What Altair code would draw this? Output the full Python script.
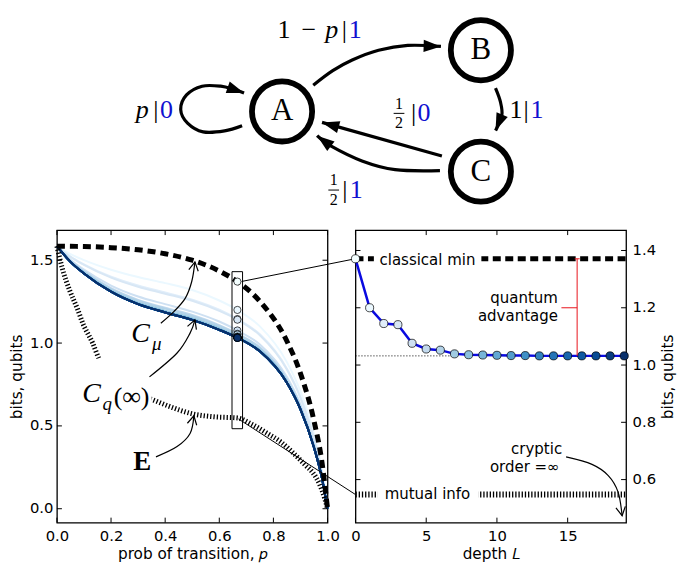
import math
import altair as alt
import pandas as pd

# ======================= DATA =======================
# ---- state diagram (diagram units) ----
node_names = ["A", "B", "C"]
node_x = [281, 485, 485]
node_y = [102, 39, 164]

loop_x = [240, 222, 200, 184, 177, 183, 199, 218, 232, 242]
loop_y = [116.7, 122, 123, 114, 100, 85, 76, 76, 79.5, 83]
ab_x = [313, 333, 353, 380, 410, 444]
ab_y = [75, 60, 49, 39, 34, 35]
bc_x = [500, 505, 506.5, 500]
bc_y = [78, 92, 106, 121.7]
ca1_x = [445, 322]
ca1_y = [148, 113.3]
ca2_x = [443, 397, 363, 330, 317]
ca2_y = [163, 162, 153, 137, 127]

lab_t = ["1", "−", "p", "|", "1", "p", "|", "0", "|", "0", "1", "|", "1", "|", "1"]
lab_x = [283, 308.5, 332, 345, 356, 137.5, 151.5, 162.5, 416, 426.5, 521, 531.3, 542.5, 345.5, 357]
lab_y = [18, 18, 18, 18, 18, 101, 101, 101, 104, 104, 101, 101, 101, 183, 183]
lab_k = ["n", "n", "i", "n", "b", "i", "n", "b", "n", "b", "n", "n", "b", "n", "b"]
frac_x = [401, 334]
frac_num_y = [94.5, 173]
frac_den_y = [113.5, 193]
frac_bar_y = [104, 183]

# ---- left panel ----
p_grid = [0, 0.05, 0.1, 0.2, 0.3, 0.4, 0.5, 0.6, 0.667, 0.75, 0.85, 0.9, 0.95, 0.98, 1.0]
c_mu = [1.585, 1.584, 1.583, 1.576, 1.563, 1.539, 1.500, 1.435, 1.371, 1.252, 1.011, 0.817, 0.530, 0.274, 0.0]
cq_1 = [1.585, 1.537, 1.501, 1.443, 1.399, 1.362, 1.320, 1.257, 1.200, 1.101, 0.885, 0.708, 0.450, 0.227, 0.0]
cq_2 = [1.585, 1.522, 1.475, 1.400, 1.347, 1.305, 1.262, 1.201, 1.145, 1.053, 0.845, 0.674, 0.424, 0.212, 0.0]
cq_3 = [1.585, 1.520, 1.472, 1.395, 1.340, 1.298, 1.255, 1.194, 1.141, 1.047, 0.840, 0.669, 0.421, 0.210, 0.0]
cq_4 = [1.585, 1.503, 1.443, 1.347, 1.281, 1.235, 1.190, 1.130, 1.076, 0.992, 0.795, 0.630, 0.392, 0.193, 0.0]
cq_5 = [1.585, 1.498, 1.433, 1.331, 1.261, 1.213, 1.169, 1.108, 1.056, 0.974, 0.780, 0.617, 0.383, 0.188, 0.0]
cq_6 = [1.585, 1.496, 1.431, 1.327, 1.256, 1.208, 1.163, 1.103, 1.052, 0.970, 0.776, 0.614, 0.380, 0.186, 0.0]
cq_7 = [1.585, 1.493, 1.425, 1.318, 1.245, 1.196, 1.151, 1.091, 1.039, 0.959, 0.768, 0.607, 0.375, 0.183, 0.0]
cq_8 = [1.585, 1.491, 1.422, 1.314, 1.240, 1.190, 1.146, 1.085, 1.036, 0.955, 0.764, 0.603, 0.372, 0.181, 0.0]
cq_inf = [1.585, 1.490, 1.420, 1.310, 1.235, 1.185, 1.140, 1.080, 1.032, 0.950, 0.760, 0.600, 0.370, 0.180, 0.0]
cq_curves = {1: cq_1, 2: cq_2, 3: cq_3, 4: cq_4, 5: cq_5, 6: cq_6, 7: cq_7, 8: cq_8}
for L in range(9, 20):
    cq_curves[L] = cq_inf

e_p = [0, 0.02, 0.048, 0.075, 0.096, 0.132, 0.156, 0.2, 0.25, 0.3, 0.35, 0.42, 0.5, 0.58,
       0.667, 0.72, 0.777, 0.83, 0.873, 0.92, 0.945, 0.97, 0.99, 1.0]
e_v = [1.585, 1.45, 1.314, 1.21, 1.118, 1.0, 0.903, 0.80, 0.73, 0.69, 0.66, 0.615, 0.573, 0.555,
       0.548, 0.51, 0.455, 0.40, 0.337, 0.26, 0.219, 0.15, 0.06, 0.0]

xt_left = [0.0, 0.2, 0.4, 0.6, 0.8, 1.0]
yt_left = [0.0, 0.5, 1.0, 1.5]

# ---- right panel ----
depth_L = list(range(20))
cq_depth = [1.371, 1.200, 1.145, 1.141, 1.076, 1.056, 1.052, 1.039, 1.036, 1.035,
            1.034, 1.033, 1.033, 1.032, 1.032, 1.032, 1.032, 1.032, 1.032, 1.032]
classical_min = 1.371
mutual_info = 0.548
cq_limit = 1.032
xt_right = [0, 5, 10, 15]
yt_right = [0.6, 0.8, 1.0, 1.2, 1.4]

blues_stops = [0, 2.375, 4.75, 7.125, 9.5, 11.875, 14.25, 16.625, 19]
blues = ["#ffffff", "#deebf7", "#c6dbef", "#9ecae1", "#6baed6", "#4292c6", "#2171b5", "#08519c", "#08306b"]

# ======================= HELPERS =======================
W, H = 271, 293
DW, DH = 571, 210
TRI = "M0,0L0.7,2L-0.7,2Z"
VEE = "M-0.55,1L0,0L0.55,1"
SERIF = "Liberation Serif"
SANS = "DejaVu Sans"
TXT = 15.0


def head_angle(xs, ys, sx, sy):
    dx = (xs[-1] - xs[-2]) * sx
    dy = (ys[-1] - ys[-2]) * sy
    return math.degrees(math.atan2(dx, -dy)) % 360


def paths(plist, sx, sy):
    rows, heads = [], []
    for k, (xs, ys) in enumerate(plist):
        for i, (x, y) in enumerate(zip(xs, ys)):
            rows.append({"id": k, "i": i, "x": x, "y": y})
        heads.append({"x": xs[-1], "y": ys[-1], "a": head_angle(xs, ys, sx, sy)})
    return pd.DataFrame(rows), pd.DataFrame(heads)


cscale = alt.Scale(domain=blues_stops, range=blues)

# ======================= DIAGRAM =======================
sxD = alt.Scale(domain=[50, 635], nice=False, zero=False)
syD = alt.Scale(domain=[0, 216], nice=False, zero=False, reverse=True)


def XD(f):
    return alt.X(f, type="quantitative", scale=sxD, axis=None)


def YD(f):
    return alt.Y(f, type="quantitative", scale=syD, axis=None)


nodes_df = pd.DataFrame({"n": node_names, "x": node_x, "y": node_y})
edge_df, edge_heads = paths([(loop_x, loop_y), (ab_x, ab_y), (bc_x, bc_y), (ca1_x, ca1_y), (ca2_x, ca2_y)],
                            DW / 585, DH / 216)
lab_df = pd.DataFrame({"t": lab_t, "x": lab_x, "y": lab_y, "k": lab_k})
frac_df = pd.DataFrame({"x": frac_x * 2, "y": frac_num_y + frac_den_y, "t": ["1", "1", "2", "2"]})
bar_df = pd.DataFrame({"x1": [v - 5.5 for v in frac_x], "x2": [v + 5.5 for v in frac_x], "y": frac_bar_y})

d_nodes = alt.Chart(nodes_df).mark_point(shape="circle", size=3630, filled=False, color="black",
                                         strokeWidth=5.8, opacity=1).encode(x=XD("x"), y=YD("y"))
d_letters = alt.Chart(nodes_df).mark_text(font=SERIF, fontSize=31, color="black").encode(
    x=XD("x"), y=YD("y"), text="n:N")
d_edges = alt.Chart(edge_df).mark_line(color="black", strokeWidth=3.2, interpolate="cardinal").encode(
    x=XD("x"), y=YD("y"), detail="id:N", order="i:Q")
d_heads = alt.Chart(edge_heads).mark_point(shape=TRI, filled=True, size=300, color="black", opacity=1,
                                           strokeWidth=0).encode(
    x=XD("x"), y=YD("y"), angle=alt.Angle("a:Q", scale=None))
d_lab_n = alt.Chart(lab_df).transform_filter("datum.k == 'n'").mark_text(
    font=SERIF, fontSize=26, color="black").encode(x=XD("x"), y=YD("y"), text="t:N")
d_lab_i = alt.Chart(lab_df).transform_filter("datum.k == 'i'").mark_text(
    font=SERIF, fontSize=26, fontStyle="italic", color="black").encode(x=XD("x"), y=YD("y"), text="t:N")
d_lab_b = alt.Chart(lab_df).transform_filter("datum.k == 'b'").mark_text(
    font=SERIF, fontSize=26, color="#1010d0").encode(x=XD("x"), y=YD("y"), text="t:N")
d_frac = alt.Chart(frac_df).mark_text(font=SERIF, fontSize=16, color="black").encode(
    x=XD("x"), y=YD("y"), text="t:N")
d_bar = alt.Chart(bar_df).mark_rule(color="black", strokeWidth=1).encode(
    x=XD("x1"), x2="x2", y=YD("y"))

diagram = alt.layer(d_edges, d_heads, d_nodes, d_letters, d_lab_n, d_lab_i, d_lab_b, d_frac, d_bar).properties(
    width=DW, height=DH, view=alt.ViewBackground(strokeWidth=0, stroke="transparent"))

# ======================= LEFT PANEL =======================
sxL = alt.Scale(domain=[0, 1], nice=False, zero=False)
syL = alt.Scale(domain=[-0.084, 1.682], nice=False, zero=False)
axLx = alt.Axis(values=xt_left, format=".1f", title="prob of transition, 𝑝", labelFlush=False, ticks=False,
                tickSize=0, domain=False, grid=False, labelPadding=6, titlePadding=3)
axLy = alt.Axis(values=yt_left, format=".1f", title="bits, qubits", ticks=False, tickSize=0,
                domain=False, grid=False, labelPadding=4, titlePadding=5)


def XL(f):
    return alt.X(f, type="quantitative", scale=sxL, axis=axLx)


def YL(f):
    return alt.Y(f, type="quantitative", scale=syL, axis=axLy)


curve_rows = []
for L, vals in cq_curves.items():
    for p, v in zip(p_grid, vals):
        curve_rows.append({"L": L, "p": p, "v": v})
curves_df = pd.DataFrame(curve_rows)
cmu_df = pd.DataFrame({"p": p_grid, "v": c_mu})
e_df = pd.DataFrame({"p": e_p, "v": e_v})
lbox_df = pd.DataFrame({"x1": [0.06], "x2": [0.35], "y1": [0.6], "y2": [0.905]})
zrect_df = pd.DataFrame({"x1": [0.647], "x2": [0.686], "y1": [0.483], "y2": [1.431]})
lcirc_df = pd.DataFrame({"L": depth_L, "p": [0.667] * 20, "v": cq_depth})
conn_df = pd.DataFrame({"x1": [0.683, 0.671], "y1": [1.372, 0.542], "x2": [1.103, 1.103], "y2": [1.509, 0.086]})

lt_it_df = pd.DataFrame({"t": ["C", "μ", "C", "q"], "x": [0.309, 0.369, 0.128, 0.186],
                         "y": [1.055, 0.995, 0.694, 0.635], "s": [28, 19, 28, 19]})
lt_n_df = pd.DataFrame({"t": ["(∞)"], "x": [0.276], "y": [0.676]})
lt_b_df = pd.DataFrame({"t": ["E"], "x": [0.315], "y": [0.283]})

l_arrows, l_heads = paths([
    ([0.384, 0.432, 0.474, 0.498, 0.51], [1.12, 1.19, 1.27, 1.37, 1.49]),
    ([0.342, 0.444, 0.492, 0.51], [0.796, 0.94, 1.06, 1.14]),
    ([0.366, 0.444, 0.492, 0.506], [0.313, 0.375, 0.454, 0.561]),
], W / 1.0, -H / 1.766)

left_layers = [
    alt.Chart(curves_df).mark_line(strokeWidth=2, interpolate="monotone").encode(
        x=XL("p"), y=YL("v"), color=alt.Color("L:Q", scale=cscale, legend=None), detail="L:N"),
    alt.Chart(cmu_df).mark_line(color="black", strokeWidth=5, strokeDash=[8, 5], interpolate="monotone").encode(
        x=XL("p"), y=YL("v")),
    alt.Chart(e_df).mark_line(color="black", strokeWidth=5, strokeDash=[1.3, 2], interpolate="monotone").encode(
        x=XL("p"), y=YL("v")),
    alt.Chart(lbox_df).mark_rect(color="white").encode(x=XL("x1"), x2="x2", y=YL("y1"), y2="y2"),
    alt.Chart(zrect_df).mark_rect(fillOpacity=0, stroke="black", strokeWidth=1).encode(
        x=XL("x1"), x2="x2", y=YL("y1"), y2="y2"),
    alt.Chart(lcirc_df).mark_point(shape="circle", filled=True, size=52, stroke="black", strokeWidth=0.7,
                                   opacity=1).encode(
        x=XL("p"), y=YL("v"), fill=alt.Fill("L:Q", scale=cscale, legend=None)),
    alt.Chart(conn_df).mark_rule(color="black", strokeWidth=1).encode(x=XL("x1"), y=YL("y1"), x2="x2", y2="y2"),
    alt.Chart(lt_it_df).mark_text(font=SERIF, fontStyle="italic", color="black").encode(
        x=XL("x"), y=YL("y"), text="t:N", size=alt.Size("s:Q", scale=None)),
    alt.Chart(lt_n_df).mark_text(font=SERIF, fontSize=26, color="black").encode(
        x=XL("x"), y=YL("y"), text="t:N"),
    alt.Chart(lt_b_df).mark_text(font=SERIF, fontSize=27, fontWeight="bold", color="black").encode(
        x=XL("x"), y=YL("y"), text="t:N"),
    alt.Chart(l_arrows).mark_line(color="black", strokeWidth=1.2, interpolate="cardinal").encode(
        x=XL("x"), y=YL("y"), detail="id:N", order="i:Q"),
    alt.Chart(l_heads).mark_point(shape=VEE, filled=False, size=300, color="black", strokeWidth=1.2,
                                  opacity=1).encode(x=XL("x"), y=YL("y"), angle=alt.Angle("a:Q", scale=None)),
    alt.Chart(pd.DataFrame({"v": xt_left})).mark_rule(color="black").encode(
        x=XL("v"), y=alt.value(0), y2=alt.value(5)),
    alt.Chart(pd.DataFrame({"v": xt_left})).mark_rule(color="black").encode(
        x=XL("v"), y=alt.value(H), y2=alt.value(H - 5)),
    alt.Chart(pd.DataFrame({"v": yt_left})).mark_rule(color="black").encode(
        y=YL("v"), x=alt.value(0), x2=alt.value(5)),
    alt.Chart(pd.DataFrame({"v": yt_left})).mark_rule(color="black").encode(
        y=YL("v"), x=alt.value(W - 5), x2=alt.value(W)),
]
left = alt.layer(*left_layers).properties(
    width=W, height=H, view=alt.ViewBackground(stroke="black", strokeWidth=1.3))

# ======================= RIGHT PANEL =======================
sxR = alt.Scale(domain=[0, 19.13], nice=False, zero=False)
syR = alt.Scale(domain=[0.4496, 1.4713], nice=False, zero=False)
axRx = alt.Axis(values=xt_right, format="d", title="depth 𝐿", labelFlush=False, ticks=False, tickSize=0,
                domain=False, grid=False, labelPadding=6, titlePadding=3)
axRy = alt.Axis(values=yt_right, format=".1f", title="bits, qubits", orient="right", ticks=False, tickSize=0,
                domain=False, grid=False, labelPadding=6, titlePadding=5, titleAngle=270, titleBaseline="top")


def XR(f):
    return alt.X(f, type="quantitative", scale=sxR, axis=axRx)


def YR(f):
    return alt.Y(f, type="quantitative", scale=syR, axis=axRy)


depth_df = pd.DataFrame({"L": depth_L, "v": cq_depth})
hl_df = pd.DataFrame({"x1": [0], "x2": [19.13], "y": [classical_min]})
mi_df = pd.DataFrame({"x1": [0], "x2": [19.13], "y": [mutual_info]})
lim_df = pd.DataFrame({"x1": [0], "x2": [6.76], "y": [cq_limit]})
rbox_df = pd.DataFrame({"x1": [1.3, 1.55], "x2": [8.9, 8.7],
                        "y1": [classical_min - 0.026, mutual_info - 0.025],
                        "y2": [classical_min + 0.026, mutual_info + 0.025]})
rtext_df = pd.DataFrame({"t": ["classical min", "mutual info"], "x": [5.09, 5.09], "y": [1.368, 0.55]})
rtext_r_df = pd.DataFrame({"t": ["quantum", "advantage", "cryptic", "order =∞"],
                           "x": [14.31, 14.31, 14.61, 14.43], "y": [1.234, 1.172, 0.707, 0.643]})
red_df = pd.DataFrame({"x1": [15.67, 15.5, 14.56], "x2": [15.67, 15.85, 15.67],
                       "y1": [cq_limit, classical_min, 1.2], "y2": [classical_min, classical_min, 1.2]})
r_arrows, r_heads = paths([
    ([14.89, 16.72, 17.87, 18.56, 18.85], [0.679, 0.653, 0.614, 0.557, 0.474]),
], W / 19.13, -H / (1.4713 - 0.4496))

right_layers = [
    alt.Chart(lim_df).mark_rule(color="black", strokeWidth=1, strokeDash=[1, 2]).encode(
        x=XR("x1"), x2="x2", y=YR("y")),
    alt.Chart(hl_df).mark_rule(color="black", strokeWidth=5, strokeDash=[8, 4.5]).encode(
        x=XR("x1"), x2="x2", y=YR("y")),
    alt.Chart(mi_df).mark_rule(color="black", strokeWidth=6, strokeDash=[1.3, 1.9]).encode(
        x=XR("x1"), x2="x2", y=YR("y")),
    alt.Chart(rbox_df).mark_rect(color="white").encode(x=XR("x1"), x2="x2", y=YR("y1"), y2="y2"),
    alt.Chart(rtext_df).mark_text(font=SANS, fontSize=TXT, color="black").encode(
        x=XR("x"), y=YR("y"), text="t:N"),
    alt.Chart(rtext_r_df).mark_text(font=SANS, fontSize=TXT, color="black", align="right").encode(
        x=XR("x"), y=YR("y"), text="t:N"),
    alt.Chart(depth_df).mark_line(color="#0a0ae0", strokeWidth=2.5).encode(x=XR("L"), y=YR("v")),
    alt.Chart(depth_df).mark_point(shape="circle", filled=True, size=66, stroke="black", strokeWidth=0.7,
                                   opacity=1).encode(
        x=XR("L"), y=YR("v"), fill=alt.Fill("L:Q", scale=cscale, legend=None)),
    alt.Chart(red_df).mark_rule(color="#e8141c", strokeWidth=1).encode(
        x=XR("x1"), x2="x2", y=YR("y1"), y2="y2"),
    alt.Chart(r_arrows).mark_line(color="black", strokeWidth=1.2, interpolate="cardinal").encode(
        x=XR("x"), y=YR("y"), detail="id:N", order="i:Q"),
    alt.Chart(r_heads).mark_point(shape=VEE, filled=False, size=300, color="black", strokeWidth=1.2,
                                  opacity=1).encode(x=XR("x"), y=YR("y"), angle=alt.Angle("a:Q", scale=None)),
    alt.Chart(pd.DataFrame({"v": xt_right})).mark_rule(color="black").encode(
        x=XR("v"), y=alt.value(0), y2=alt.value(5)),
    alt.Chart(pd.DataFrame({"v": xt_right})).mark_rule(color="black").encode(
        x=XR("v"), y=alt.value(H), y2=alt.value(H - 5)),
    alt.Chart(pd.DataFrame({"v": yt_right})).mark_rule(color="black").encode(
        y=YR("v"), x=alt.value(0), x2=alt.value(5)),
    alt.Chart(pd.DataFrame({"v": yt_right})).mark_rule(color="black").encode(
        y=YR("v"), x=alt.value(W - 5), x2=alt.value(W)),
]
right = alt.layer(*right_layers).properties(
    width=W, height=H, view=alt.ViewBackground(stroke="black", strokeWidth=1.3))

bottom = alt.hconcat(left, right, spacing=28, bounds="flush")
chart = alt.vconcat(diagram, bottom, spacing=8, bounds="flush").properties(
    padding=0, background="white"
).configure_axis(
    labelFont=SANS, titleFont=SANS, labelFontSize=14.8, titleFontSize=15.3,
    titleFontWeight="normal", labelColor="black", titleColor="black"
).configure_view(strokeWidth=0)

chart.save("out.html", embed_options={"renderer": "svg", "actions": False})
